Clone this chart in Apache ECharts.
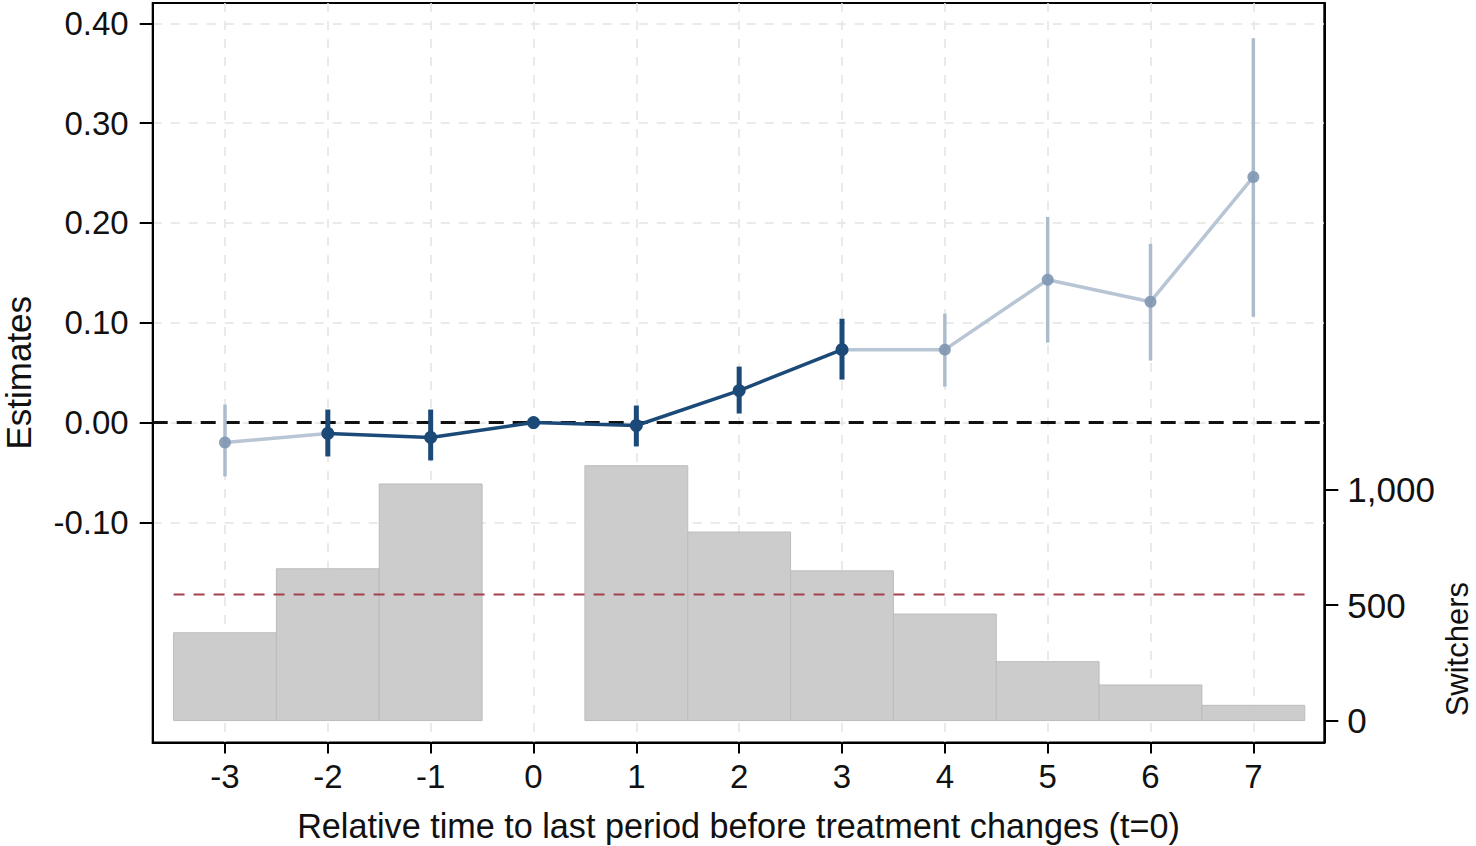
<!DOCTYPE html>
<html>
<head>
<meta charset="utf-8">
<script src="https://cdn.jsdelivr.net/npm/echarts@6/dist/echarts.min.js"></script>
<style>html,body{margin:0;padding:0;background:#fff;}#chart{width:1476px;height:846px;}</style>
</head>
<body>
<div id="chart"></div>
<script>
// ---- data ----
const periods   = [-3, -2, -1, 0, 1, 2, 3, 4, 5, 6, 7];
const estimates = [-0.020, -0.011, -0.015, 0.000, -0.003, 0.032, 0.073, 0.073, 0.143, 0.121, 0.246];
const ciLower   = [-0.054, -0.034, -0.038, 0.000, -0.024, 0.009, 0.043, 0.036, 0.080, 0.062, 0.106];
const ciUpper   = [ 0.018,  0.013,  0.013, 0.000,  0.017, 0.056, 0.104, 0.109, 0.206, 0.179, 0.385];
const inWindow  = [false, true, true, true, true, true, true, false, false, false, false];
const switchers = [380, 657, 1024, 0, 1103, 816, 648, 461, 255, 154, 66];
const switcherRef = 546;
const xTicks = [-3, -2, -1, 0, 1, 2, 3, 4, 5, 6, 7];
const estTicks = [-0.1, 0, 0.1, 0.2, 0.3, 0.4];
const switchTicks = [0, 500, 1000];
const xTitle = 'Relative time to last period before treatment changes (t=0)';
const yTitle = 'Estimates';
const y2Title = 'Switchers';

// ---- styling / layout ----
const FONT = '"Liberation Sans", Arial, sans-serif';
const X_MIN = -3.703, X_MAX = 7.69;
const Y_MIN = -0.3206, Y_MAX = 0.4203;
const Y2_MIN = -95, Y2_MAX = 3106;
const DARK = '#1b4a79';
const LIGHT_LINE = '#b7c5d4';
const LIGHT_CI = '#adbccd';
const LIGHT_PT = '#7f96b2';
const GRID = '#e3e3e3';

const chart = echarts.init(document.getElementById('chart'), null, {renderer: 'svg'});

const lightLineData = periods.map((p, i) => {
  const keep = !inWindow[i] || (i > 0 && !inWindow[i - 1]) || (i < periods.length - 1 && !inWindow[i + 1]);
  return keep ? [p, estimates[i]] : [p, null];
});
const darkLineData = periods.map((p, i) => inWindow[i] ? [p, estimates[i]] : [p, null]);
const lightPts = periods.map((p, i) => [p, estimates[i]]).filter((d, i) => !inWindow[i]);
const ciData = periods.map((p, i) => [p, ciLower[i], ciUpper[i], inWindow[i] ? 1 : 0]);
const barData = periods.map((p, i) => [p, switchers[i]]);

const option = {
  backgroundColor: '#fff',
  animation: false,
  grid: {left: 152.7, right: 151.7, top: 3, bottom: 103.5, outerBoundsMode: 'none', containLabel: false,
    show: true, borderColor: '#000', borderWidth: 2, backgroundColor: 'transparent'},
  xAxis: {
    type: 'value', min: X_MIN, max: X_MAX,
    name: xTitle, nameLocation: 'middle', nameGap: 66,
    nameTextStyle: {fontFamily: FONT, fontSize: 34.2, color: '#111'},
    axisLine: {onZero: false, lineStyle: {color: '#000', width: 2}},
    axisTick: {show: true, customValues: xTicks, length: 11, lineStyle: {color: '#000', width: 2}},
    axisLabel: {customValues: xTicks, fontFamily: FONT, fontSize: 33, color: '#111', margin: 17},
    splitLine: {show: true, lineStyle: {color: GRID, type: [9, 9], width: 1.5}}
  },
  yAxis: [{
    type: 'value', min: Y_MIN, max: Y_MAX, position: 'left',
    name: yTitle, nameLocation: 'middle', nameGap: 117,
    nameTextStyle: {fontFamily: FONT, fontSize: 35, color: '#111'},
    axisLine: {show: true, onZero: false, lineStyle: {color: '#000', width: 2}},
    axisTick: {show: true, customValues: estTicks, length: 13, lineStyle: {color: '#000', width: 2}},
    axisLabel: {customValues: estTicks, fontFamily: FONT, fontSize: 33, color: '#111', margin: 24,
      formatter: v => v.toFixed(2)},
    splitLine: {show: true, lineStyle: {color: GRID, type: [9, 9], width: 1.5}}
  }, {
    type: 'value', min: Y2_MIN, max: Y2_MAX, position: 'right',
    axisLine: {show: true, onZero: false, lineStyle: {color: '#000', width: 2}},
    axisTick: {show: true, customValues: switchTicks, length: 14, lineStyle: {color: '#000', width: 2}},
    axisLabel: {customValues: switchTicks, fontFamily: FONT, fontSize: 35, color: '#111', margin: 23,
      formatter: v => v.toLocaleString('en-US')},
    splitLine: {show: false}
  }],
  graphic: [{
    type: 'text', left: 1442, top: 582, rotation: Math.PI / 2,
    style: {text: y2Title, font: '31px ' + FONT, fill: '#111'}
  }],
  series: [
    {
      name: 'switchers', type: 'custom', xAxisIndex: 0, yAxisIndex: 1, z: 1,
      data: barData, encode: {x: 0, y: 1},
      renderItem: (params, api) => {
        const x = api.value(0), v = api.value(1);
        if (!v) return null;
        const a = api.coord([x - 0.5, 0]);
        const b = api.coord([x + 0.5, v]);
        return {type: 'rect', shape: {x: a[0], y: b[1], width: b[0] - a[0], height: a[1] - b[1]},
          style: {fill: '#cccccc', stroke: '#bcbcbc', lineWidth: 1}};
      }
    },
    {
      name: 'ref', type: 'line', yAxisIndex: 1, z: 2, symbol: 'none', silent: true,
      data: [[periods[0] - 0.5, switcherRef], [periods[periods.length - 1] + 0.5, switcherRef]],
      lineStyle: {color: '#a3424f', width: 2, type: [11, 9]}
    },
    {
      name: 'zero', type: 'line', yAxisIndex: 0, z: 3, symbol: 'none', silent: true,
      data: [[X_MIN, 0], [X_MAX, 0]],
      lineStyle: {color: '#111', width: 3, type: [15, 9]}
    },
    {
      name: 'lightLine', type: 'line', yAxisIndex: 0, z: 4, symbol: 'none', connectNulls: false,
      data: lightLineData, lineStyle: {color: LIGHT_LINE, width: 3.5}
    },
    {
      name: 'ci', type: 'custom', yAxisIndex: 0, z: 5,
      data: ciData, encode: {x: 0, y: [1, 2]},
      renderItem: (params, api) => {
        const x = api.value(0);
        const lo = api.coord([x, api.value(1)]);
        const hi = api.coord([x, api.value(2)]);
        const dark = api.value(3) === 1;
        if (Math.abs(hi[1] - lo[1]) < 0.5) return null;
        return {type: 'line', shape: {x1: lo[0], y1: lo[1], x2: hi[0], y2: hi[1]},
          style: {stroke: dark ? DARK : LIGHT_CI, lineWidth: dark ? 5 : 3.5}};
      }
    },
    {
      name: 'darkLine', type: 'line', yAxisIndex: 0, z: 6, symbol: 'circle', symbolSize: 13,
      connectNulls: false, data: darkLineData,
      lineStyle: {color: DARK, width: 3.5}, itemStyle: {color: DARK}
    },
    {
      name: 'lightPts', type: 'scatter', yAxisIndex: 0, z: 6, symbolSize: 12,
      data: lightPts, itemStyle: {color: LIGHT_PT, opacity: 0.9}
    }
  ]
};
chart.setOption(option);
</script>
</body>
</html>
